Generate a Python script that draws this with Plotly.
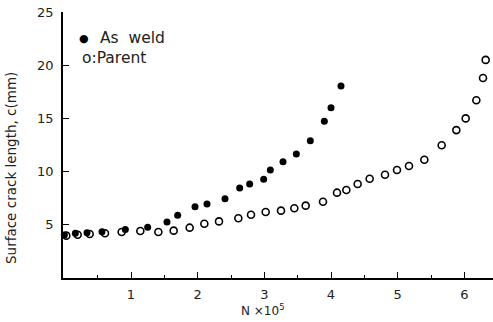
import plotly.graph_objects as go

# As weld (solid)
weld_N = [0.0, 0.165, 0.34, 0.565, 0.915, 1.25, 1.54, 1.70, 1.96, 2.14, 2.41,
          2.63, 2.78, 2.99, 3.09, 3.28, 3.48, 3.69, 3.90, 4.00, 4.15]
weld_c = [4.04, 4.2, 4.26, 4.35, 4.57, 4.76, 5.26, 5.89, 6.7, 6.95, 7.45,
          8.46, 8.83, 9.27, 10.15, 10.93, 11.65, 12.9, 14.73, 16.0, 18.05]

# Parent (open)
parent_N = [0.03, 0.2, 0.38, 0.61, 0.86, 1.14, 1.41, 1.64, 1.88, 2.10, 2.32,
            2.61, 2.80, 3.02, 3.25, 3.45, 3.62, 3.88, 4.09, 4.23, 4.40, 4.58,
            4.81, 4.99, 5.17, 5.40, 5.66, 5.88, 6.02, 6.18, 6.28, 6.32]
parent_c = [3.98, 4.07, 4.13, 4.2, 4.32, 4.42, 4.32, 4.45, 4.73, 5.1, 5.32,
            5.61, 5.95, 6.2, 6.33, 6.55, 6.8, 7.17, 8.02, 8.27, 8.83, 9.33,
            9.71, 10.15, 10.53, 11.12, 12.47, 13.9, 15.0, 16.7, 18.8, 20.5]

x_ticks = [1, 2, 3, 4, 5, 6]
y_ticks = [5, 10, 15, 20, 25]

FONT = "DejaVu Sans"
INK = "#222222"

W, H = 493, 322
L, R, T, B = 63, 493, 12, 278

fig = go.Figure()
fig.add_trace(go.Scatter(x=weld_N, y=weld_c, mode="markers", name="As weld",
                         marker=dict(symbol="circle", size=7, color="black"),
                         showlegend=False, cliponaxis=False))
fig.add_trace(go.Scatter(x=parent_N, y=parent_c, mode="markers", name="Parent",
                         marker=dict(symbol="circle-open", size=7, color="black",
                                     line=dict(width=1.6, color="black")),
                         showlegend=False, cliponaxis=False))

fig.update_layout(
    width=W, height=H,
    margin=dict(l=L, r=W - R, t=T, b=H - B, autoexpand=False),
    paper_bgcolor="white", plot_bgcolor="white",
    font=dict(family=FONT, size=13, color=INK),
    xaxis=dict(range=[-0.02, 6.43], tickvals=x_ticks, ticktext=[str(v) for v in x_ticks],
               ticks="inside", ticklen=6, tickwidth=1.2, tickcolor="black",
               minor=dict(tickvals=[0.5, 1.5, 2.5, 3.5, 4.5, 5.5], ticks="inside",
                          ticklen=3, tickwidth=1.2, tickcolor="black"),
               showline=True, linecolor="black", linewidth=1.5, mirror=False,
               showgrid=False, zeroline=False, ticklabelstandoff=4,
               ticklabeloverflow="allow", tickfont=dict(size=13)),
    yaxis=dict(range=[0, 25], tickvals=y_ticks, ticktext=[str(v) for v in y_ticks],
               ticks="inside", ticklen=6, tickwidth=1.2, tickcolor="black",
               showline=True, linecolor="black", linewidth=1.5, mirror=False,
               showgrid=False, zeroline=False, ticklabelstandoff=5,
               ticklabeloverflow="allow", tickfont=dict(size=13)),
)

# annotations placed by window pixel position (center anchors unless given)
notes = [
    dict(text="Surface crack length, c(mm)", textangle=-90, px=11, py=168,
         font=dict(size=13.5)),
    dict(text="N ×10<sup>5</sup>", px=262, py=310, font=dict(size=12)),
    dict(text="●", px=84, py=38, font=dict(size=11, color="black")),
    dict(text="As  weld", px=98, py=38, xanchor="left", font=dict(size=15.5)),
    dict(text="o:Parent", px=80, py=58, xanchor="left", font=dict(size=15.5)),
]
for n in notes:
    px, py = n.pop("px"), n.pop("py")
    n.setdefault("xanchor", "center")
    n.setdefault("yanchor", "middle")
    fig.add_annotation(x=(px - L) / (R - L), y=(B - py) / (B - T),
                       xref="paper", yref="paper", showarrow=False, **n)

# remove the default page margin so the figure sits at the window's corner
fig.write_html("out.html",
               config={"displayModeBar": False},
               post_script="document.body.style.margin='0';"
                           "document.body.style.overflow='hidden';")
